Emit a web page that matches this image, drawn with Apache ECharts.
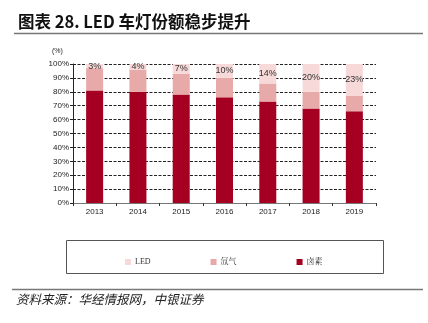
<!DOCTYPE html>
<html>
<head>
<meta charset="utf-8">
<script src="https://cdn.jsdelivr.net/npm/echarts@6/dist/echarts.min.js"></script>
<style>
  html, body { margin: 0; padding: 0; background: #fff; }
  #chart { width: 428px; height: 323px; }
</style>
</head>
<body>
<div id="chart"></div>
<script>
// Share of car headlamp types by year (%)
const years = ['2013', '2014', '2015', '2016', '2017', '2018', '2019'];
const halogen = [81, 80, 78, 76, 73, 68, 66];
const xenon = [16, 16, 15, 14, 13, 12, 11];
const led = [3, 4, 7, 10, 14, 20, 23];
const yTicks = { min: 0, max: 100, step: 10 };

const chart = echarts.init(document.getElementById('chart'), null, { renderer: 'canvas' });

const axisFont = { fontFamily: 'Liberation Sans, Arial, sans-serif', fontSize: 8, color: '#222' };

chart.setOption({
  animation: false,
  backgroundColor: '#fff',
  title: {
    text: '图表 28. LED 车灯份额稳步提升',
    left: 13, top: 8,
    textStyle: { fontFamily: 'Noto Sans CJK SC, sans-serif', fontSize: 16.5, fontWeight: 'bold', color: '#111' }
  },
  graphic: [
    { type: 'line', shape: { x1: 14, y1: 33.5, x2: 423, y2: 33.5 }, style: { stroke: '#777', lineWidth: 1.5 } },
    { type: 'text', left: 52, top: 48, style: { text: '(%)', font: '7px Liberation Sans, Arial, sans-serif', fill: '#222' } },
    { type: 'rect', shape: { x: 66.5, y: 240.5, width: 317, height: 33 }, style: { fill: 'none', stroke: '#555', lineWidth: 1 } },
    { type: 'line', shape: { x1: 12, y1: 289.5, x2: 423, y2: 289.5 }, style: { stroke: '#777', lineWidth: 1.5 } },
    { type: 'text', left: 16, top: 293, style: { text: '资料来源：华经情报网，中银证券', font: 'italic 12.5px Noto Sans CJK SC, sans-serif', fill: '#222' } }
  ],
  legend: {
    data: ['LED', '氙气', '卤素'],
    left: 120, top: 253,
    itemWidth: 6, itemHeight: 6, itemGap: 60,
    icon: 'rect',
    textStyle: { fontFamily: 'Liberation Serif, Noto Serif CJK SC, serif', fontSize: 8, color: '#333', padding: [0, 0, 0, -1] },
    selectedMode: false
  },
  grid: { left: 73, right: 52, top: 64, bottom: 120 },
  xAxis: {
    type: 'category',
    data: years,
    axisLine: { lineStyle: { color: '#777', width: 1 } },
    axisTick: { show: true, length: 3, lineStyle: { color: '#333' } },
    axisLabel: Object.assign({ margin: 5 }, axisFont)
  },
  yAxis: {
    type: 'value',
    min: yTicks.min, max: yTicks.max, interval: yTicks.step,
    axisLine: { show: true, lineStyle: { color: '#222', width: 1 } },
    axisTick: { show: true, length: 3, lineStyle: { color: '#222' } },
    axisLabel: Object.assign({ formatter: '{value}%', margin: 4 }, axisFont),
    splitLine: { show: true, lineStyle: { color: '#222', type: [3, 1.5], width: 1 } }
  },
  series: [
    {
      name: '卤素', type: 'bar', stack: 'total', data: halogen, barWidth: 17,
      itemStyle: { color: '#A50021' }
    },
    {
      name: '氙气', type: 'bar', stack: 'total', data: xenon,
      itemStyle: { color: '#E8A9A9' }
    },
    {
      name: 'LED', type: 'bar', stack: 'total', data: led,
      itemStyle: { color: '#F8D9D9' },
      label: {
        show: true, position: 'inside', formatter: '{c}%',
        fontFamily: 'Liberation Sans, Arial, sans-serif', fontSize: 9, color: '#333'
      }
    }
  ]
});
</script>
</body>
</html>
